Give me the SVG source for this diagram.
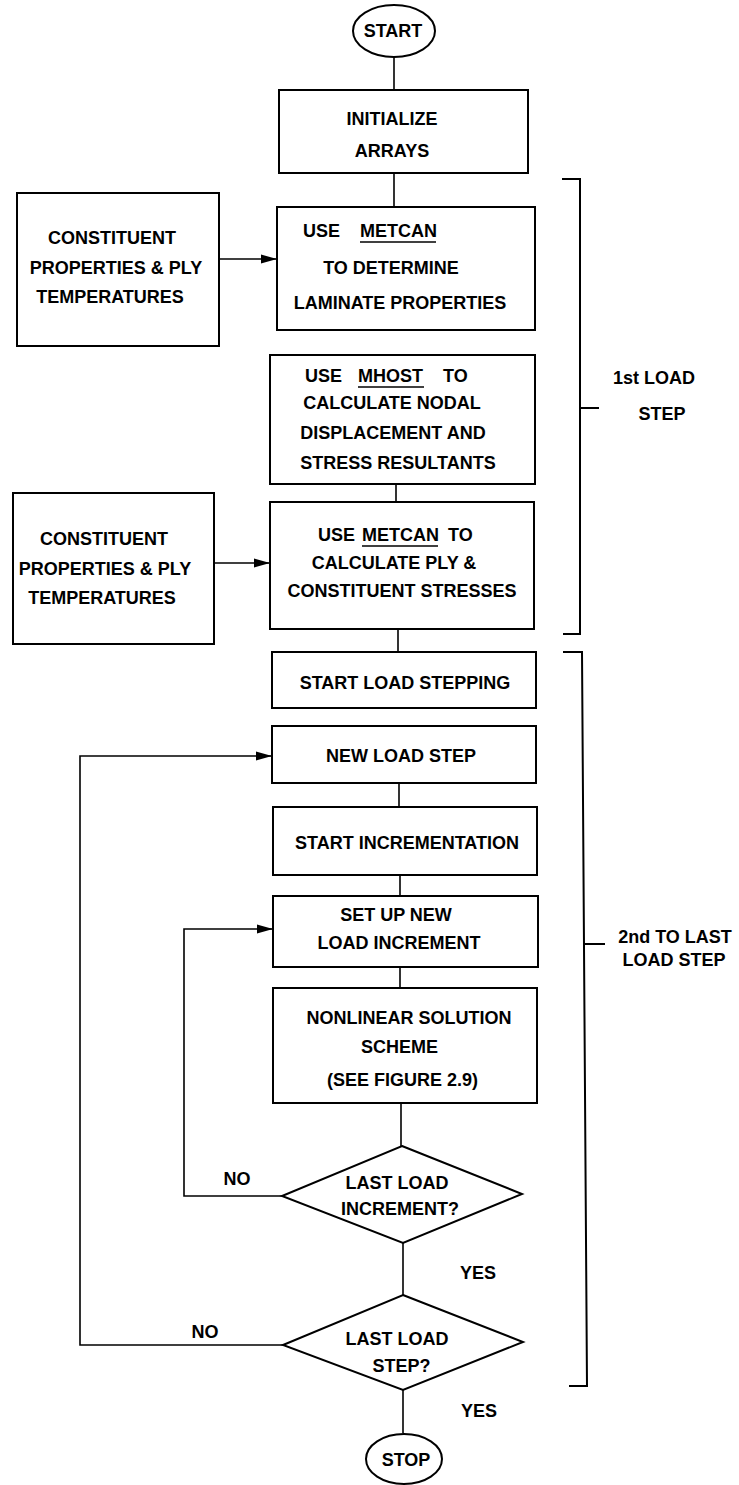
<svg xmlns="http://www.w3.org/2000/svg" width="739" height="1485" viewBox="0 0 739 1485">
<style>
.box{fill:#fff;stroke:#000;stroke-width:2}
.ln{fill:none;stroke:#000;stroke-width:1.6}
.br{fill:none;stroke:#000;stroke-width:2}
text{font-family:"Liberation Sans",Arial,sans-serif;font-weight:bold;font-size:18px;fill:#000}
.c{text-anchor:middle}
</style>
<defs>
<marker id="ah" markerWidth="16" markerHeight="10" refX="16" refY="5" orient="auto" markerUnits="userSpaceOnUse">
<path d="M0,0.5 L16,5 L0,9.5 Z" fill="#000"/>
</marker>
</defs>
<rect width="739" height="1485" fill="#fff"/>
<g id="connectors">
<line class="ln" x1="394" y1="57" x2="394" y2="90"/>
<line class="ln" x1="394" y1="173" x2="394" y2="207"/>
<line class="ln" x1="219" y1="259" x2="277" y2="259" marker-end="url(#ah)"/>
<line class="ln" x1="396" y1="484" x2="396" y2="502"/>
<line class="ln" x1="214" y1="563" x2="270" y2="563" marker-end="url(#ah)"/>
<line class="ln" x1="398" y1="629" x2="398" y2="652"/>
<line class="ln" x1="399" y1="783" x2="399" y2="807"/>
<line class="ln" x1="400" y1="875" x2="400" y2="896"/>
<line class="ln" x1="400" y1="967" x2="400" y2="988"/>
<line class="ln" x1="401" y1="1103" x2="401" y2="1146"/>
<line class="ln" x1="403" y1="1243" x2="403" y2="1295"/>
<line class="ln" x1="403" y1="1390" x2="403" y2="1433"/>
<polyline class="ln" points="282,1196 184,1196 184,929 273,929" marker-end="url(#ah)"/>
<polyline class="ln" points="283,1345 80,1345 80,756 272,756" marker-end="url(#ah)"/>
</g>
<g id="start">
<ellipse class="box" cx="394" cy="31" rx="41" ry="26"/>
<text class="c" x="393" y="36.5">START</text>
</g>
<g id="init">
<rect class="box" x="279" y="90" width="249" height="83"/>
<text class="c" x="392" y="124.5">INITIALIZE</text>
<text class="c" x="392" y="156.5">ARRAYS</text>
</g>
<g id="props1">
<rect class="box" x="17" y="193" width="202" height="153"/>
<text class="c" x="112" y="243.5">CONSTITUENT</text>
<text class="c" x="116" y="273.5">PROPERTIES &amp; PLY</text>
<text class="c" x="110" y="302.5">TEMPERATURES</text>
</g>
<g id="metcan1">
<rect class="box" x="277" y="207" width="258" height="123"/>
<text x="303" y="236.5">USE</text>
<text x="360" y="236.5">METCAN</text>
<line class="ln" x1="360" y1="242" x2="436" y2="242"/>
<text class="c" x="391" y="273.5">TO DETERMINE</text>
<text class="c" x="400" y="308.5">LAMINATE PROPERTIES</text>
</g>
<g id="mhost">
<rect class="box" x="270" y="355" width="265" height="129"/>
<text x="305" y="381.5">USE</text>
<text x="358" y="381.5">MHOST</text>
<line class="ln" x1="358" y1="387" x2="424" y2="387"/>
<text x="443" y="381.5">TO</text>
<text class="c" x="392" y="408.5">CALCULATE NODAL</text>
<text class="c" x="393" y="438.5">DISPLACEMENT AND</text>
<text class="c" x="398" y="468.5">STRESS RESULTANTS</text>
</g>
<g id="props2">
<rect class="box" x="13" y="493" width="201" height="151"/>
<text class="c" x="104" y="544.5">CONSTITUENT</text>
<text class="c" x="105" y="574.5">PROPERTIES &amp; PLY</text>
<text class="c" x="102" y="603.5">TEMPERATURES</text>
</g>
<g id="metcan2">
<rect class="box" x="270" y="502" width="264" height="127"/>
<text x="318" y="540.5">USE</text>
<text x="362" y="540.5">METCAN</text>
<line class="ln" x1="362" y1="546" x2="438" y2="546"/>
<text x="448" y="540.5">TO</text>
<text class="c" x="394" y="568.5">CALCULATE PLY &amp;</text>
<text class="c" x="402" y="596.5">CONSTITUENT STRESSES</text>
</g>
<g id="startload">
<rect class="box" x="272" y="652" width="264" height="56"/>
<text class="c" x="405" y="688.5">START LOAD STEPPING</text>
</g>
<g id="newload">
<rect class="box" x="272" y="726" width="264" height="57"/>
<text class="c" x="401" y="761.5">NEW LOAD STEP</text>
</g>
<g id="startinc">
<rect class="box" x="273" y="807" width="264" height="68"/>
<text class="c" x="407" y="848.5">START INCREMENTATION</text>
</g>
<g id="setup">
<rect class="box" x="273" y="896" width="265" height="71"/>
<text class="c" x="396" y="920.5">SET UP NEW</text>
<text class="c" x="399" y="948.5">LOAD INCREMENT</text>
</g>
<g id="nonlinear">
<rect class="box" x="273" y="988" width="264" height="115"/>
<text class="c" x="409" y="1023.5">NONLINEAR SOLUTION</text>
<text class="c" x="399.5" y="1052.5">SCHEME</text>
<text class="c" x="402.5" y="1085.5">(SEE FIGURE 2.9)</text>
</g>
<g id="lastinc">
<polygon class="box" points="402,1146 522,1194 403,1243 282,1196"/>
<text class="c" x="397" y="1188.5">LAST LOAD</text>
<text class="c" x="400" y="1214.5">INCREMENT?</text>
</g>
<g id="laststep">
<polygon class="box" points="403,1295 523,1342 403,1390 283,1345"/>
<text class="c" x="397" y="1344.5">LAST LOAD</text>
<text class="c" x="401.5" y="1371.5">STEP?</text>
</g>
<g id="stop">
<ellipse class="box" cx="404" cy="1459" rx="38" ry="25"/>
<text class="c" x="406" y="1465.5">STOP</text>
</g>
<g id="labels">
<text class="c" x="237" y="1184.5">NO</text>
<text class="c" x="205" y="1337.5">NO</text>
<text class="c" x="478" y="1278.5">YES</text>
<text class="c" x="479" y="1416.5">YES</text>
</g>
<g id="bracket1">
<polyline class="br" points="562,179 580,179 580,634 563,634"/>
<line class="br" x1="580" y1="408" x2="599" y2="408"/>
<text class="c" x="654" y="383.5">1st LOAD</text>
<text class="c" x="662" y="419.5">STEP</text>
</g>
<g id="bracket2">
<polyline class="br" points="563,652 582,652 587,1386 569,1386"/>
<line class="br" x1="583" y1="944" x2="605" y2="944"/>
<text class="c" x="675" y="942.5">2nd TO LAST</text>
<text class="c" x="674" y="965.5">LOAD STEP</text>
</g>
</svg>
